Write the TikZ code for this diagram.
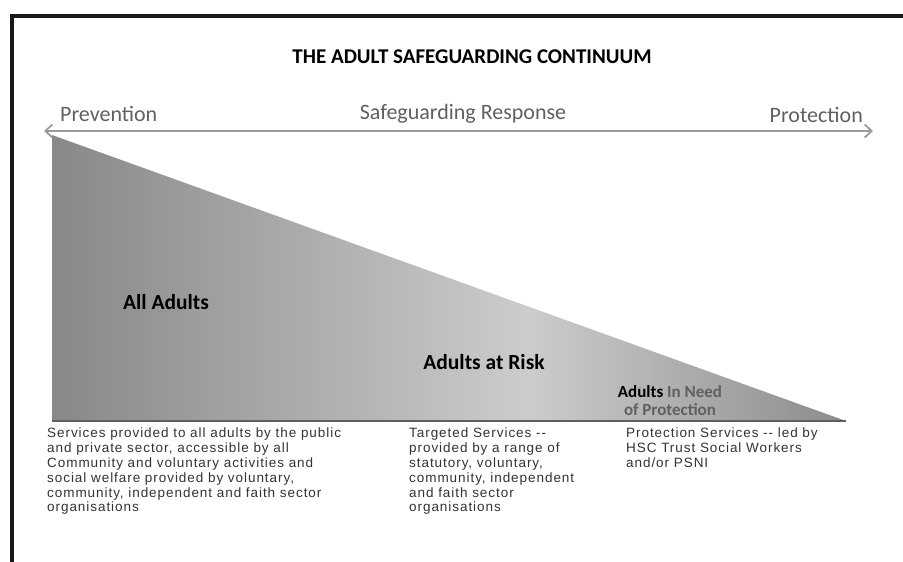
\documentclass[tikz,border=0pt]{standalone}
\usepackage{fontspec}
\setmainfont{Carlito}
\newfontfamily\servicefont[LetterSpace=7]{Liberation Sans}
\usetikzlibrary{arrows.meta}
\definecolor{shadeedge}{HTML}{888888}
\definecolor{shademid}{HTML}{CCCCCC}
\definecolor{shaderight}{HTML}{8C8C8C}
\definecolor{axisgray}{HTML}{9A9A9A}
\definecolor{labelgray}{HTML}{606060}
\definecolor{servicegray}{HTML}{333333}
\pgfdeclarehorizontalshading{continuum}{100bp}{color(0bp)=(shadeedge); color(25bp)=(shadeedge); color(55bp)=(shademid); color(75bp)=(shaderight); color(100bp)=(shaderight)}

\begin{document}
\begin{tikzpicture}[x=1pt,y=-1pt,
  frame/.style={line width=3.5pt,black!90},
  titletext/.style={inner sep=0pt,font=\fontsize{21}{23}\selectfont\bfseries},
  axisarrow/.style={axisgray,line width=1.8pt,{Straight Barb[length=7pt,width=13pt]}-{Straight Barb[length=7pt,width=13pt]}},
  axislabel/.style={inner sep=0pt,labelgray,font=\fontsize{22}{24}\selectfont},
  bandlabel/.style={inner sep=0pt,align=center,font=\fontsize{21.5}{16}\selectfont\bfseries},
  servicetext/.style={inner sep=0pt,anchor=north west,align=left,servicegray,font=\servicefont\fontsize{13.5}{14.8}\selectfont}]
\useasboundingbox (0,0) rectangle (903,562);
\clip (0,0) rectangle (903,562);

\draw[frame] (12,620) -- (12,16) -- (903,16);

\node[titletext] (title) at (472,57) {THE ADULT SAFEGUARDING CONTINUUM};

\coordinate (arrowL) at (44,131);
\coordinate (arrowR) at (873,131);
\draw[axisarrow] (arrowL) -- (arrowR);
\node[axislabel,anchor=base west] (prev) at (60,121) {Prevention};
\node[axislabel,anchor=base] (resp) at (463,119) {Safeguarding Response};
\node[axislabel,anchor=base east] (prot) at (863,122) {Protection};

\coordinate (TL) at (52,135);
\coordinate (BL) at (52,421);
\coordinate (BR) at (846,421);
\shade[shading=continuum] (TL) -- (BL) -- (BR) -- cycle;
\draw[shadeedge!70!black,line width=1.5pt] (BL) -- (BR);

\node[bandlabel] (all) at (166,302) {All Adults};
\node[bandlabel] (risk) at (484,362) {Adults at Risk};
\node[bandlabel,font=\fontsize{17}{18}\selectfont\bfseries] (need) at (670,401) {Adults \textcolor{labelgray}{In Need}\\\textcolor{labelgray}{of Protection}};

\node[servicetext] (univ) at (47,428) {Services provided to all adults by the public\\and private sector, accessible by all\\Community and voluntary activities and\\social welfare provided by voluntary,\\community, independent and faith sector\\organisations};
\node[servicetext] (target) at (409,428) {Targeted Services --\\provided by a range of\\statutory, voluntary,\\community, independent\\and faith sector\\organisations};
\node[servicetext] (protect) at (626,428) {Protection Services -- led by\\HSC Trust Social Workers\\and/or PSNI};
\end{tikzpicture}
\end{document}
